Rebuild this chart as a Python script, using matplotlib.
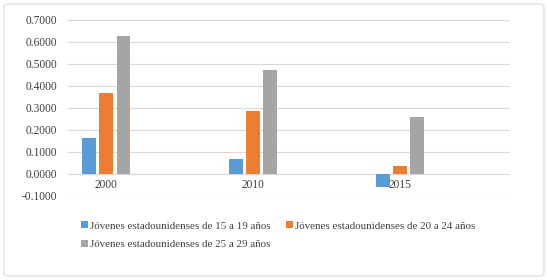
import numpy as np
import matplotlib.pyplot as plt
from matplotlib.patches import FancyBboxPatch

# datos
anios = ["2000", "2010", "2015"]
jov_15_19 = [0.164, 0.068, -0.059]
jov_20_24 = [0.366, 0.286, 0.036]
jov_25_29 = [0.625, 0.473, 0.259]
series = ["Jóvenes estadounidenses de 15 a 19 años",
          "Jóvenes estadounidenses de 20 a 24 años",
          "Jóvenes estadounidenses de 25 a 29 años"]
colores = ["#5B9BD5", "#ED7D31", "#A5A5A5"]

plt.rcParams['font.family'] = ['Liberation Serif', 'DejaVu Serif']
fs = 8.3

fig = plt.figure(figsize=(5.48, 2.8), dpi=100)
ax = fig.add_axes([68 / 548, 0.30, (510 - 68) / 548, 0.629])

x = np.arange(len(anios))
w = 0.095
paso = 0.118
barras = []
for i, (vals, nombre, c) in enumerate(zip([jov_15_19, jov_20_24, jov_25_29], series, colores)):
    barras.append(ax.bar(x + (i - 1) * paso, vals, w, color=c, label=nombre, zorder=3))

ax.set_ylim(-0.1, 0.7)
ax.set_xlim(-0.26, 2.75)
ticks = np.arange(-0.1, 0.71, 0.1)
ax.set_yticks(ticks)
ax.set_yticklabels([f"{v:.4f}" for v in ticks])
ax.yaxis.grid(True, color="#D9D9D9", linewidth=0.8, zorder=0)
ax.axhline(0, color="#D9D9D9", linewidth=0.8, zorder=2)
for s in ax.spines.values():
    s.set_visible(False)
ax.tick_params(axis="both", length=0, labelsize=fs, colors="#404040", pad=8)

# etiquetas de años justo debajo del cero
ax.set_xticks([])
for xi, a in zip(x, anios):
    ax.text(xi, -0.024, a, ha="center", va="top", fontsize=fs, color="#404040")

# orden por filas: 15-19, 20-24 / 25-29
orden = [0, 2, 1]
fig.legend([barras[k] for k in orden], [series[k] for k in orden],
           loc="upper left", bbox_to_anchor=(77 / 548, 1 - 217 / 280), ncol=2,
           frameon=False, fontsize=7.9, handlelength=0.6, handleheight=0.6,
           handletextpad=0.2, columnspacing=1.4, labelspacing=0.85,
           borderaxespad=0, labelcolor="#404040")

borde = FancyBboxPatch((4 / 548, 4 / 280), 540 / 548, 272 / 280,
                       boxstyle="round,pad=0,rounding_size=0.01",
                       transform=fig.transFigure, facecolor="none",
                       edgecolor="#D9D9D9", linewidth=0.8)
fig.patches.append(borde)

fig.savefig("out.png", dpi=100)
